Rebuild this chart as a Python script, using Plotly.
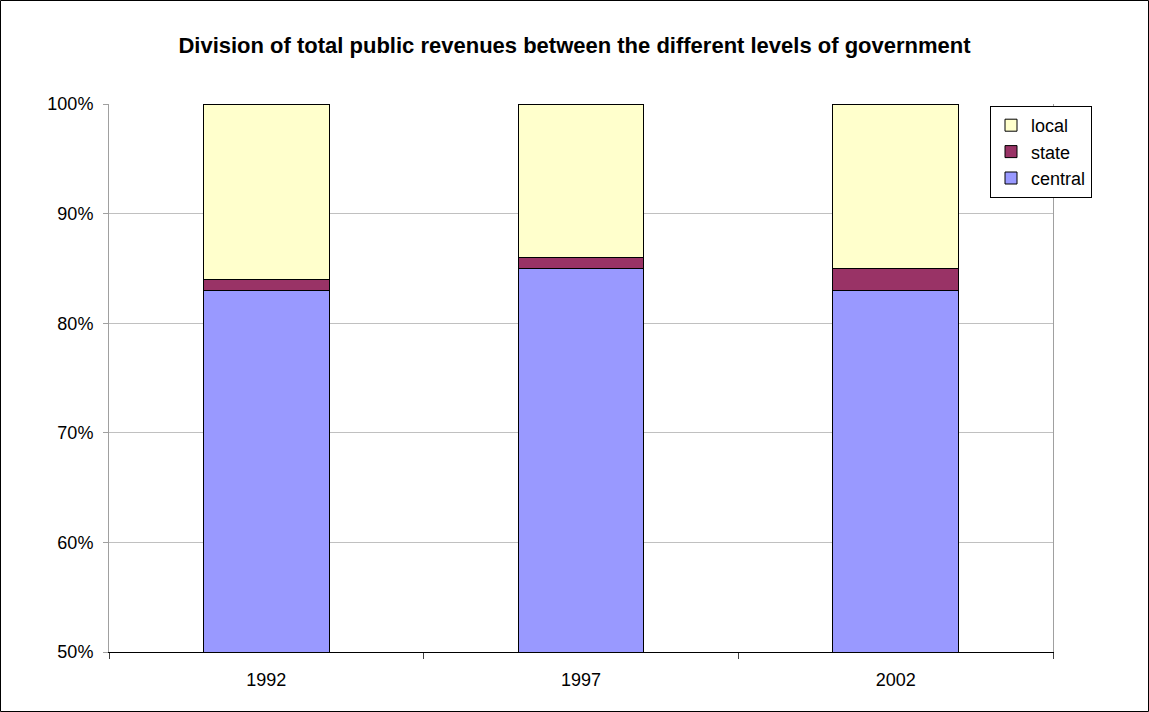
import plotly.graph_objects as go

# Share of total public revenues by level of government (%)
years = ["1992", "1997", "2002"]
central = [83, 85, 83]
state = [1, 1, 2]
local = [16, 14, 15]

W, H = 1149, 712
ML, MR, MT, MB = 109, 96, 104, 60
PW, PH = W - ML - MR, H - MT - MB

line = dict(color="black", width=1)
fig = go.Figure()
fig.add_trace(go.Bar(x=years, y=central, name="central", legendrank=3,
                     marker=dict(color="#9999FF", line=line), width=0.4))
fig.add_trace(go.Bar(x=years, y=state, name="state", legendrank=2,
                     marker=dict(color="#993366", line=line), width=0.4))
fig.add_trace(go.Bar(x=years, y=local, name="local", legendrank=1,
                     marker=dict(color="#FFFFCC", line=line), width=0.4))

font = "Liberation Sans, Arial, sans-serif"
fig.update_layout(
    width=W, height=H,
    barmode="stack",
    paper_bgcolor="white", plot_bgcolor="white",
    margin=dict(l=ML, r=MR, t=MT, b=MB),
    font=dict(family=font, size=18, color="black"),
    title=dict(text="<b>Division of total public revenues between the different levels of government</b>",
               x=0.5, xanchor="center", y=1 - 45 / H, yanchor="middle", yref="container",
               font=dict(family=font, size=22, color="black")),
    showlegend=True,
    legend=dict(x=(990 - ML) / PW, y=(H - MB - 106) / PH, xanchor="left", yanchor="top",
                bgcolor="white", bordercolor="black", borderwidth=1,
                traceorder="normal", font=dict(size=18),
                itemwidth=30, tracegroupgap=0),
    xaxis=dict(type="category", showgrid=False, showline=True, linecolor="black", linewidth=1,
               ticks="outside", tickson="boundaries", ticklen=6, tickcolor="#404040",
               ticklabelstandoff=11),
    yaxis=dict(range=[50, 100], dtick=10, ticksuffix="%", showgrid=True, gridcolor="#c0c0c0",
               showline=True, linecolor="#a0a0a0", mirror=True, ticks="outside", ticklen=5,
               tickcolor="#a0a0a0", zeroline=False, ticklabelstandoff=6),
    shapes=[dict(type="rect", xref="paper", yref="paper",
                 x0=-(ML - 0.5) / PW, x1=1 + (MR - 0.5) / PW,
                 y0=-(MB - 0.5) / PH, y1=1 + (MT - 0.5) / PH,
                 line=dict(color="black", width=1), layer="above")],
)

fig.write_html("out.html")
